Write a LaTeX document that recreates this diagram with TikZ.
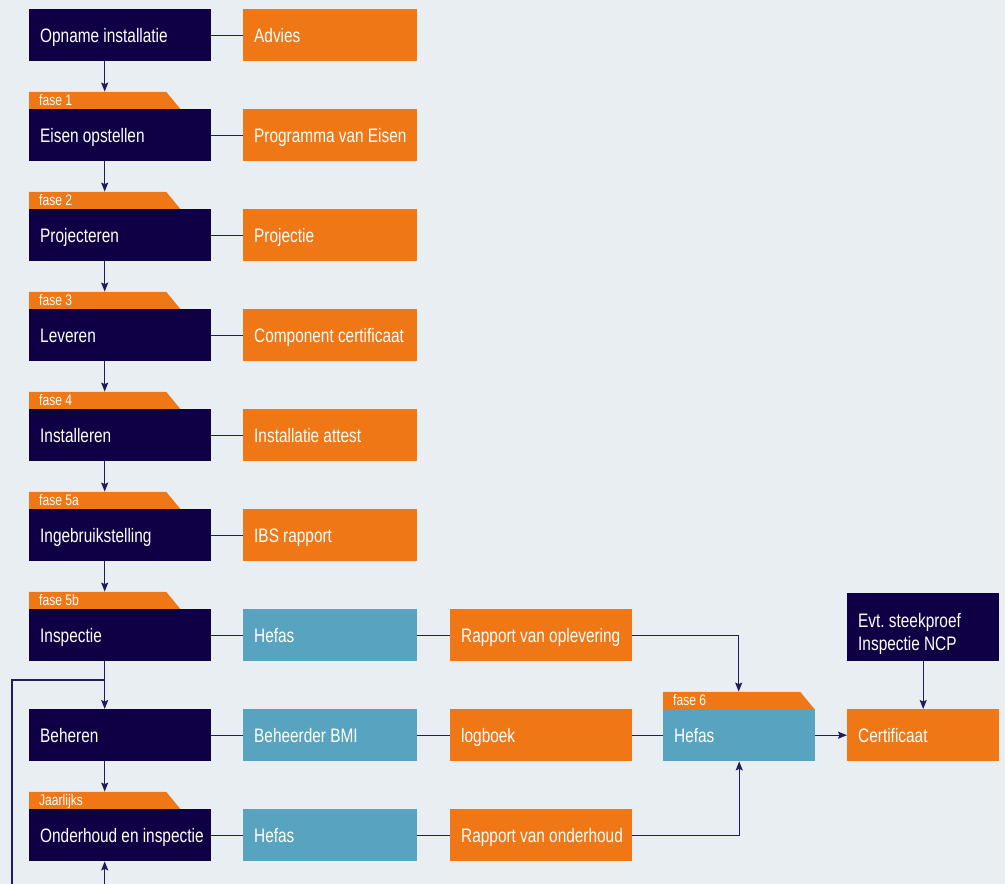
\documentclass[tikz,border=0pt]{standalone}
\usepackage{fontspec}
\setmainfont{Liberation Sans}[FakeStretch=0.79]
\usetikzlibrary{arrows.meta,calc}
\definecolor{navy}{HTML}{0F0046}
\definecolor{orng}{HTML}{EF7716}
\definecolor{tealb}{HTML}{58A4C0}
\definecolor{bgc}{HTML}{E8EEF2}
\definecolor{lnc}{HTML}{241A5E}
\newcommand{\boxfont}{\fontsize{19.5}{23.3}\selectfont\frenchspacing\spaceskip=4.2pt plus 1pt minus 0.5pt\relax}
\newcommand{\tabfont}{\fontsize{15.3}{16}\selectfont\spaceskip=3.4pt plus 1pt minus 0.5pt\relax}
\tikzset{
  box/.style={rectangle, anchor=north west, inner xsep=11pt, inner ysep=0pt,
    minimum height=52pt, text=white,
    font=\boxfont, text height=13.8pt, text depth=0pt,
    execute at begin node={\hbox to #1\bgroup}, execute at end node={\hss\egroup}},
  lbox/.style={box=160pt, fill=navy},
  obox/.style={box=152pt, fill=orng},
  tbox/.style={box=152pt, fill=tealb},
  wbox/.style={box=160pt, fill=orng},
  hbox/.style={box=130pt, fill=tealb},
  cbox/.style={box=130pt, fill=orng},
  ebox/.style={box=130pt, fill=navy, minimum height=68pt, text depth=13.8pt},
  tabnode/.style={rectangle, anchor=south west, inner xsep=10pt, inner ysep=0pt,
    minimum width=151pt, minimum height=17pt, text=white, font=\tabfont,
    text height=10.5pt, text depth=0pt,
    execute at begin node={\hbox to 131pt\bgroup}, execute at end node={\hss\egroup},
    path picture={\fill[orng] (path picture bounding box.north west)
      -- ([xshift=-14pt]path picture bounding box.north east)
      -- (path picture bounding box.south east)
      -- (path picture bounding box.south west) -- cycle;}},
  conn/.style={draw=lnc, line width=1.2pt},
  arr/.style={conn, -{Stealth[length=9pt,width=7pt,inset=1.5pt]}},
}
\begin{document}
\begin{tikzpicture}[x=1pt,y=-1pt]
\fill[bgc] (0,0) rectangle (1005,884);
\useasboundingbox (0,0) rectangle (1005,884);
% left column
\node[lbox] (n0) at (29,9)   {Opname installatie};
\node[lbox] (n1) at (29,109) {Eisen opstellen};
\node[lbox] (n2) at (29,209) {Projecteren};
\node[lbox] (n3) at (29,309) {Leveren};
\node[lbox] (n4) at (29,409) {Installeren};
\node[lbox] (n5) at (29,509) {Ingebruikstelling};
\node[lbox] (n6) at (29,609) {Inspectie};
\node[lbox] (n7) at (29,709) {Beheren};
\node[lbox] (n8) at (29,809) {Onderhoud en inspectie};
% tabs
\node[tabnode] (t1) at (29,109) {fase 1};
\node[tabnode] (t2) at (29,209) {fase 2};
\node[tabnode] (t3) at (29,309) {fase 3};
\node[tabnode] (t4) at (29,409) {fase 4};
\node[tabnode] (t5) at (29,509) {fase 5a};
\node[tabnode] (t6) at (29,609) {fase 5b};
\node[tabnode] (t8) at (29,809) {Jaarlijks};
% second column
\node[obox] (r0) at (243,9)   {Advies};
\node[obox] (r1) at (243,109) {Programma van Eisen};
\node[obox] (r2) at (243,209) {Projectie};
\node[obox] (r3) at (243,309) {Component certificaat};
\node[obox] (r4) at (243,409) {Installatie attest};
\node[obox] (r5) at (243,509) {IBS rapport};
\node[tbox] (r6) at (243,609) {Hefas};
\node[tbox] (r7) at (243,709) {Beheerder BMI};
\node[tbox] (r8) at (243,809) {Hefas};
% third column
\node[wbox] (w6) at (450,609) {Rapport van oplevering};
\node[wbox] (w7) at (450,709) {logboek};
\node[wbox] (w8) at (450,809) {Rapport van onderhoud};
% right part
\node[hbox] (h) at (663,709) {Hefas};
\node[tabnode] (t9) at (663,709) {fase 6};
\node[cbox] (c) at (847,709) {Certificaat};
\node[ebox] (e) at (847,593) {\vtop{\baselineskip=23.3pt\hbox{Evt. steekproef}\hbox{Inspectie NCP}}};
% vertical arrows
\draw[arr] (n0.south -| t1.north) -- (t1.north);
\draw[arr] (n1.south -| t2.north) -- (t2.north);
\draw[arr] (n2.south -| t3.north) -- (t3.north);
\draw[arr] (n3.south -| t4.north) -- (t4.north);
\draw[arr] (n4.south -| t5.north) -- (t5.north);
\draw[arr] (n5.south -| t6.north) -- (t6.north);
\draw[arr] (n6.south -| t6.north) -- (n7.north -| t6.north);
\draw[arr] (n7.south -| t8.north) -- (t8.north);
% loop
\coordinate (split) at (t6.north |- 0,680);
\coordinate (lc1) at (12,680);
\coordinate (lc2) at (12,884);
\coordinate (lc3) at (t8.north |- 0,884);
\draw[conn] (split) -- (lc1) -- (lc2);
\draw[arr] (lc3) -- (n8.south -| t8.north);
% horizontal connectors
\foreach \i in {0,...,8} {\draw[conn] (n\i.east) -- (r\i.west);}
\draw[conn] (r6.east) -- (w6.west);
\draw[conn] (r7.east) -- (w7.west);
\draw[conn] (r8.east) -- (w8.west);
\draw[conn] (w7.east) -- (h.west);
\draw[arr] (w6.east) -| (t9.north);
\draw[arr] (w8.east) -| (h.south);
\draw[arr] (h.east) -- (c.west);
\draw[arr] (e.south) -- (c.north);
\end{tikzpicture}
\end{document}
